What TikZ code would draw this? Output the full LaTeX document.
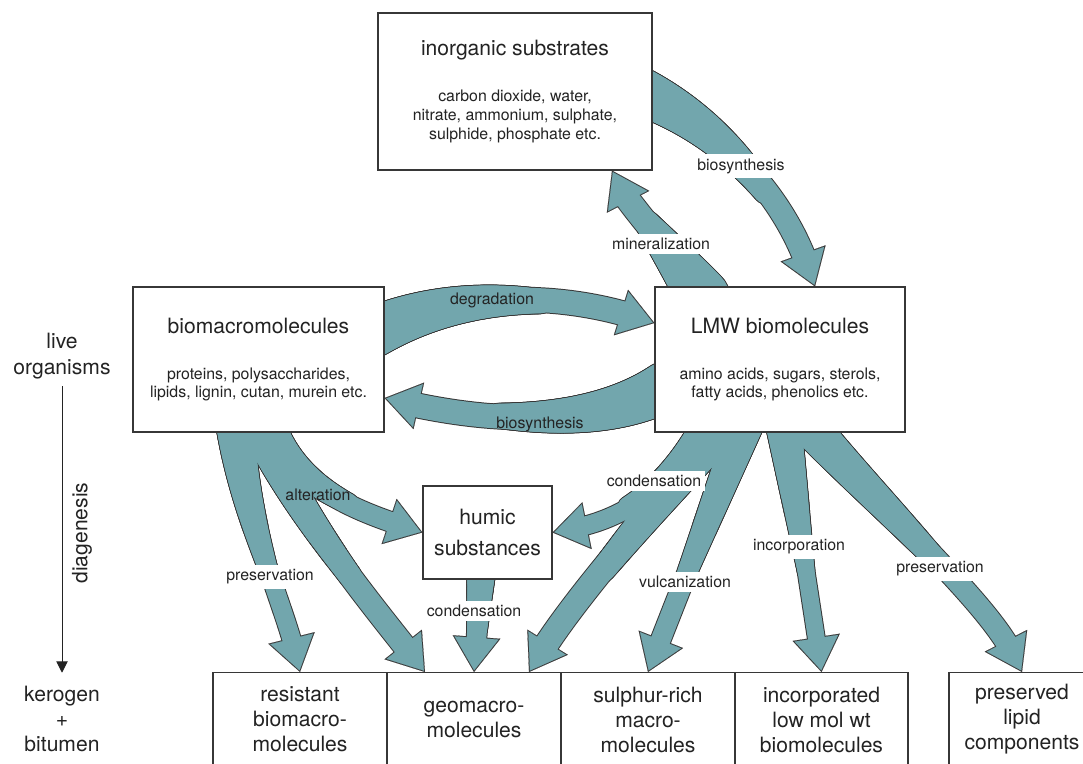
\documentclass[tikz,border=0pt]{standalone}
\usepackage{fontspec}
\setmainfont{TeX Gyre Heros}
\usepackage{tikz}
\usetikzlibrary{arrows.meta, calc, backgrounds, decorations.markings}
\definecolor{flowfill}{RGB}{114,166,173}
\definecolor{flowline}{RGB}{55,55,55}
\definecolor{inkcol}{RGB}{35,35,35}
\newcommand{\titlefont}{\fontsize{15}{18}\selectfont}
\newcommand{\notefont}{\fontsize{11.3}{13.2}\selectfont}
\newcommand{\bigfont}{\fontsize{15}{17.8}\selectfont}
\newcommand{\poolbox}[2]{{\titlefont #1}\\[19.5pt]#2}
\tikzset{
  pool/.style={
    draw=flowline, line width=0.8pt, fill=white,
    align=center, inner sep=0pt, font=\notefont, text=inkcol
  },
  sink/.style={
    draw=flowline, line width=0.8pt, fill=white,
    align=center, inner sep=0pt, font=\bigfont, text=inkcol,
    anchor=north, minimum width=4.35cm, minimum height=2.35cm
  },
  tag/.style={fill=white, inner sep=3pt, font=\notefont, text=inkcol},
  plaintag/.style={inner sep=1pt, font=\notefont, text=inkcol},
  % #1 width at the source, #2 width of the shaft (pt)
  flowedge/.style 2 args={
    draw=flowline, line width=0.1pt,
    -{Triangle[length=25pt, width=34pt]},
    preaction={draw=flowline, line width=#2pt+1.4pt, -, shorten >=16pt},
    preaction={decorate, decoration={markings,
      mark=between positions 0 and 0.6 step 1pt with {
        \pgfmathsetmacro{\flowr}{0.5*(#1+(#2-#1)*\pgfkeysvalueof{/pgf/decoration/mark info/distance from start}/(0.6*\pgfdecoratedpathlength))+0.7}
        \fill[flowline] (0,0) circle (\flowr pt);}}}
  },
  flowbody/.style 2 args={
    draw=flowfill, line width=0.1pt, shorten >=1.25pt,
    -{Triangle[length=23.05pt, width=31.3pt]},
    preaction={draw=flowfill, line width=#2pt, -, shorten >=16pt},
    preaction={decorate, decoration={markings,
      mark=between positions 0 and 0.6 step 1pt with {
        \pgfmathsetmacro{\flowr}{0.5*(#1+(#2-#1)*\pgfkeysvalueof{/pgf/decoration/mark info/distance from start}/(0.6*\pgfdecoratedpathlength))}
        \fill[flowfill] (0,0) circle (\flowr pt);}}}
  },
}
\newcommand{\flownet}[1]{%
  \draw[#1={33.5}{16}] ($(inorg.east)+(-11,0.5)$)
    .. controls +(74,33) and +(-35,-97) .. ($(lmw.north)+(35,0)$);
  \draw[#1={37.5}{17}] ($(lmw.north)+(-77,10)$)
    .. controls +(-33,-47) and +(18,35) .. ($(inorg.south)+(97,0)$);
  \draw[#1={35.5}{17}] ($(biomacro.east)+(-11,-27.5)$)
    .. controls +(97,-47) and +(-80,-25) .. ($(lmw.west)+(0,-36.5)$);
  \draw[#1={35.5}{17}] ($(lmw.west)+(10.5,27.5)$)
    .. controls +(-75.5,43) and +(96,22) .. ($(biomacro.east)+(0,38.5)$);
  \draw[#1={27.5}{13}] ($(biomacro.south)+(-23.5,-12)$)
    .. controls +(9,100) and +(-18,-72) .. (resist.north);
  \draw[#1={25.5}{16}] ($(biomacro.south)+(-3,-12)$)
    .. controls +(40,90) and +(-65,-82) .. ($(geo.north)+(-49,0)$);
  \draw[#1={23.5}{14}] ($(biomacro.south)+(9,-11)$)
    .. controls +(24.5,59) and +(-83,-27.5) .. (humic.west);
  \draw[#1={20}{14}] ($(humic.south)+(-6,-10)$) -- (geo.north);
  \draw[#1={25.5}{13}] ($(lmw.south)+(-68.5,-10)$)
    .. controls +(-31.5,48) and +(88,-17.5) .. (humic.east);
  \draw[#1={27.5}{17}] ($(lmw.south)+(-54.5,-9)$)
    .. controls +(-55.5,67) and +(51,-82) .. ($(geo.north)+(55,0)$);
  \draw[#1={25.5}{14}] ($(lmw.south)+(-33.5,-11)$) -- (sulph.north);
  \draw[#1={25.5}{12}] ($(lmw.south)+(3,-12)$) -- (incorp.north);
  \draw[#1={27.5}{15}] ($(lmw.south)+(27,-9)$)
    .. controls +(73,82) and +(-37,-72) .. (lipid.north);
}

\begin{document}
\begin{tikzpicture}[x=0.25mm, y=-0.25mm]
  \clip (0,0) rectangle (1083,763);

  \node[pool, minimum width=6.85cm, minimum height=3.925cm] (inorg) at (515,91.5)
    {\poolbox{inorganic substrates}{carbon dioxide, water,\\nitrate, ammonium, sulphate,\\sulphide, phosphate etc.}};
  \node[pool, minimum width=6.275cm, minimum height=3.625cm] (biomacro) at (258.5,359.5)
    {\poolbox{biomacromolecules}{proteins, polysaccharides,\\lipids, lignin, cutan, murein etc.}};
  \node[pool, minimum width=6.25cm, minimum height=3.625cm] (lmw) at (780,359.5)
    {\poolbox{LMW biomolecules}{amino acids, sugars, sterols,\\fatty acids, phenolics etc.}};
  \node[pool, font=\fontsize{15}{22}\selectfont, minimum width=3.225cm, minimum height=2.325cm]
    (humic) at (487.5,532.5) {humic\\substances};

  \node[sink] (resist) at (300,672) {resistant\\biomacro-\\molecules};
  \node[sink] (geo) at (474,672) {geomacro-\\molecules};
  \node[sink] (sulph) at (648,672) {sulphur-rich\\macro-\\molecules};
  \node[sink, minimum width=4.325cm] (incorp) at (821.5,672) {incorporated\\low mol wt\\biomolecules};
  \node[sink, minimum width=3.65cm] (lipid) at (1022,672) {preserved\\lipid\\components};

  \begin{scope}[on background layer]
    \flownet{flowedge}
    \flownet{flowbody}
  \end{scope}

  \node[tag] (l-bio1) at (741,166) {biosynthesis};
  \node[tag] (l-min) at (661,244) {mineralization};
  \node[plaintag] (l-deg) at (492,300) {degradation};
  \node[plaintag] (l-bio2) at (540,424) {biosynthesis};
  \node[plaintag] (l-alt) at (318,495) {alteration};
  \node[tag] (l-pres1) at (270,577) {preservation};
  \node[tag] (l-cond1) at (474,611) {condensation};
  \node[tag] (l-cond2) at (654,481) {condensation};
  \node[tag] (l-vulc) at (685,582) {vulcanization};
  \node[tag] (l-inc) at (799,547) {incorporation};
  \node[tag] (l-pres2) at (940,569) {preservation};

  \node[font=\fontsize{15}{18.5}\selectfont, align=center, text=inkcol] (live) at (62,356) {live\\organisms};
  \node[font=\bigfont, align=center, text=inkcol] (kero) at (62,719) {kerogen\\+\\bitumen};
  \draw[inkcol, line width=0.7pt, -{Triangle[length=8pt, width=8pt]},
    shorten <=1.5pt, shorten >=6pt] (live) -- (kero);
  \node[font=\titlefont, rotate=90, text=inkcol] (diag) at (82,533) {diagenesis};
\end{tikzpicture}
\end{document}
